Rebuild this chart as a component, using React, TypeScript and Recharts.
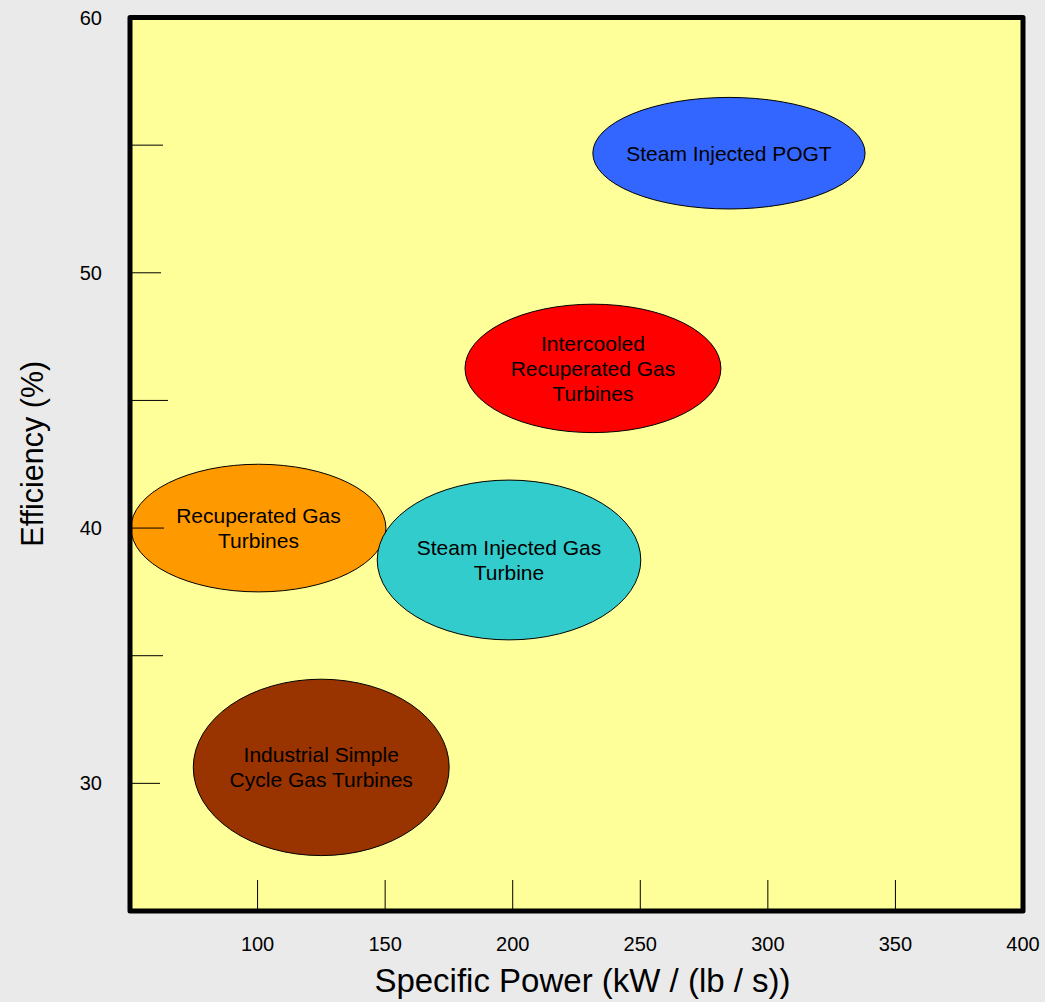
import React from 'react';
import { ComposedChart, XAxis, YAxis, ReferenceArea, CartesianGrid, Label, Scatter } from 'recharts';

// ---- data ----
const regionNames: string[][] = [
  ['Steam Injected POGT'],
  ['Intercooled', 'Recuperated Gas', 'Turbines'],
  ['Recuperated Gas', 'Turbines'],
  ['Steam Injected Gas', 'Turbine'],
  ['Industrial Simple', 'Cycle Gas Turbines'],
];
const powerMin = [231.4, 181.3, 50.4, 146.9, 74.8];
const powerMax = [338.1, 281.6, 150.3, 250.2, 175.1];
const efficiencyMin = [52.5, 43.74, 37.5, 35.62, 27.17];
const efficiencyMax = [56.87, 48.77, 42.5, 41.88, 34.08];

const xTicks = [100, 150, 200, 250, 300, 350, 400];
const yTicks = [30, 35, 40, 45, 50, 55, 60];
const xDomain = [50, 400];
const yDomain = [25, 60];

// ---- styles ----
const regionColors = ['#3366ff', '#ff0000', '#ff9900', '#33cccc', '#993300'];
const yTickLen: Record<number, number> = { 30: 30, 35: 33, 40: 34, 45: 38, 50: 31, 55: 33, 60: 30 };
const FONT = '"Liberation Sans", Arial, Helvetica, sans-serif';

const centers = powerMin.map((p, i) => ({
  x: (p + powerMax[i]) / 2,
  y: (efficiencyMin[i] + efficiencyMax[i]) / 2,
}));

const makeShape = (i: number) => (props: any) => {
  const { x, y, width, height } = props;
  const cx = x + width / 2;
  const cy = y + height / 2;
  const lines = regionNames[i];
  const lh = 25;
  return (
    <g>
      <ellipse cx={cx} cy={cy} rx={width / 2} ry={height / 2} fill={regionColors[i]} stroke="#000" strokeWidth={1} />
      <text textAnchor="middle" fontSize={21} fontFamily={FONT} fill="#000">
        {lines.map((l, k) => (
          <tspan key={k} x={cx} y={cy + (k - (lines.length - 1) / 2) * lh + 7.5}>
            {l}
          </tspan>
        ))}
      </text>
    </g>
  );
};

const BorderShape = (props: any) => {
  const { x, y, width, height } = props;
  return <rect x={x} y={y} width={width} height={height} fill="none" stroke="#000" strokeWidth={5} strokeLinejoin="round" />;
};

const YTick = (props: any) => {
  const { x, y, payload } = props;
  const v = payload.value as number;
  return (
    <g>
      <line x1={x} x2={x + (yTickLen[v] ?? 31)} y1={y} y2={y} stroke="#000" strokeWidth={1} />
      {v % 10 === 0 && (
        <text x={x - 28} y={y + 7} textAnchor="end" fontSize={20} fontFamily={FONT} fill="#000">
          {v}
        </text>
      )}
    </g>
  );
};

const XTick = (props: any) => {
  const { x, y, payload } = props;
  const v = payload.value as number;
  return (
    <g>
      <line x1={x} x2={x} y1={y} y2={y - 31} stroke="#000" strokeWidth={1} />
      <text x={x} y={y + 39.5} textAnchor="middle" fontSize={20} fontFamily={FONT} fill="#000">
        {v}
      </text>
    </g>
  );
};

const XTitle = (props: any) => {
  const vb = props.viewBox || { x: 130, y: 911, width: 893, height: 91 };
  const cx = vb.x + vb.width / 2 + 6;
  return (
    <text x={cx} y={vb.y + 81} textAnchor="middle" fontSize={33} fontFamily={FONT} fill="#000">
      Specific Power (kW / (lb / s))
    </text>
  );
};

const YTitle = (props: any) => {
  const vb = props.viewBox || { x: 0, y: 17.5, width: 130, height: 893.5 };
  const cy = vb.y + vb.height / 2 - 10.5;
  const bx = vb.x + 43;
  return (
    <text
      x={bx}
      y={cy}
      transform={`rotate(-90, ${bx}, ${cy})`}
      textAnchor="middle"
      fontSize={30.5}
      fontFamily={FONT}
      fill="#000"
    >
      Efficiency (%)
    </text>
  );
};

export default function App() {
  return (
    <div style={{ position: 'absolute', left: 0, top: 0, width: 1045, height: 1002, background: '#eaeaea' }}>
      <ComposedChart width={1045} height={1002} margin={{ top: 17.5, right: 22, left: 0, bottom: 0 }}>
        <CartesianGrid horizontal={false} vertical={false} fill="#ffff99" stroke="none" />
        <XAxis
          type="number"
          dataKey="x"
          domain={xDomain}
          ticks={xTicks}
          allowDataOverflow
          height={91}
          axisLine={false}
          tickLine={false}
          tickSize={0}
          tickMargin={0}
          tick={<XTick />}
          interval={0}
        >
          <Label content={<XTitle />} />
        </XAxis>
        <YAxis
          type="number"
          dataKey="y"
          domain={yDomain}
          ticks={yTicks}
          allowDataOverflow
          width={130}
          axisLine={false}
          tickLine={false}
          tickSize={0}
          tickMargin={0}
          tick={<YTick />}
          interval={0}
        >
          <Label content={<YTitle />} />
        </YAxis>
        {regionNames.map((_, i) => (
          <ReferenceArea
            key={i}
            x1={powerMin[i]}
            x2={powerMax[i]}
            y1={efficiencyMin[i]}
            y2={efficiencyMax[i]}
            shape={makeShape(i)}
            ifOverflow="visible"
          />
        ))}
        <ReferenceArea
          x1={xDomain[0]}
          x2={xDomain[1]}
          y1={yDomain[0]}
          y2={yDomain[1]}
          shape={<BorderShape />}
          ifOverflow="visible"
        />
        <Scatter data={centers} isAnimationActive={false} shape={() => <g />} />
      </ComposedChart>
    </div>
  );
}
